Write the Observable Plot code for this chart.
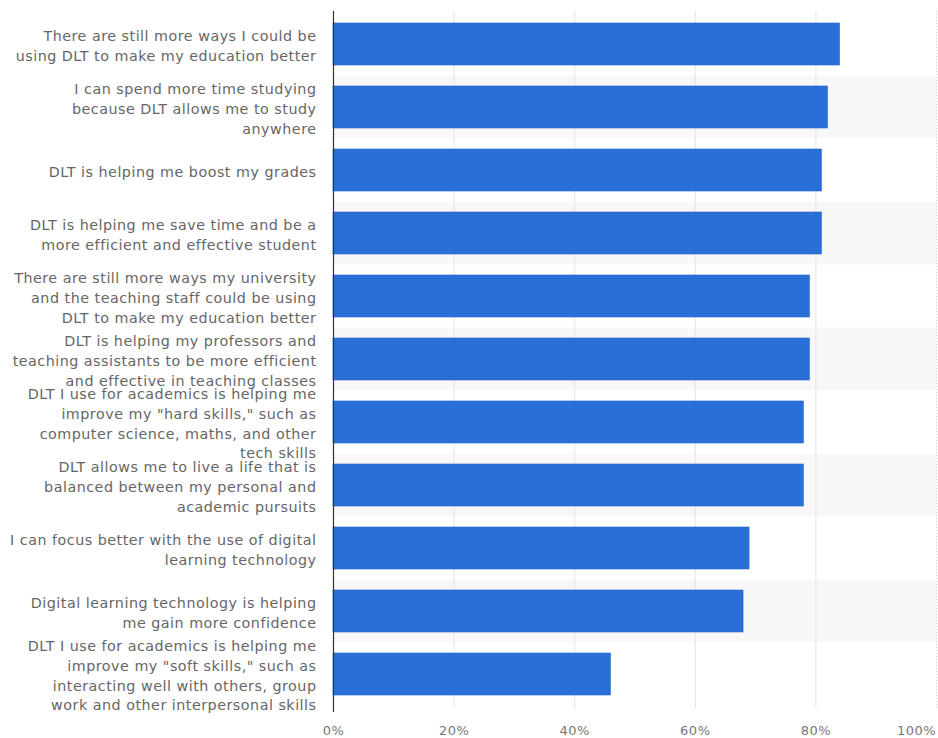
<!DOCTYPE html>
<html>
<head>
<meta charset="utf-8">
<script src="https://cdn.jsdelivr.net/npm/d3@7"></script>
<script src="https://cdn.jsdelivr.net/npm/@observablehq/plot@0.6"></script>
<style>
  html, body { margin: 0; padding: 0; background: #fff; }
  #chart svg { display: block; }
  #chart svg text { letter-spacing: 0.5px; }
</style>
</head>
<body>
<div id="chart"></div>
<script>
const categories = [
  "There are still more ways I could be\nusing DLT to make my education better",
  "I can spend more time studying\nbecause DLT allows me to study\nanywhere",
  "DLT is helping me boost my grades",
  "DLT is helping me save time and be a\nmore efficient and effective student",
  "There are still more ways my university\nand the teaching staff could be using\nDLT to make my education better",
  "DLT is helping my professors and\nteaching assistants to be more efficient\nand effective in teaching classes",
  "DLT I use for academics is helping me\nimprove my \"hard skills,\" such as\ncomputer science, maths, and other\ntech skills",
  "DLT allows me to live a life that is\nbalanced between my personal and\nacademic pursuits",
  "I can focus better with the use of digital\nlearning technology",
  "Digital learning technology is helping\nme gain more confidence",
  "DLT I use for academics is helping me\nimprove my \"soft skills,\" such as\ninteracting well with others, group\nwork and other interpersonal skills"
];
const shares = [84, 82, 81, 81, 79, 79, 78, 78, 69, 68, 46];
const xTicks = [0, 20, 40, 60, 80, 100];

const data = categories.map((c, i) => ({category: c, value: shares[i], index: i}));
const stripes = data.filter(d => d.index % 2 === 1);

const stepPx = 697 / 11;
const halfGap = stepPx * 0.33 / 2;

const chart = Plot.plot({
  width: 938,
  height: 738,
  marginLeft: 333,
  marginRight: 2,
  marginTop: 11,
  marginBottom: 30,
  style: {fontFamily: "DejaVu Sans, sans-serif", background: "#fff"},
  x: {domain: [0, 100], axis: null},
  y: {domain: categories, axis: null, paddingInner: 0.33, paddingOuter: 0.165},
  marks: [
    Plot.barX(stripes, {x1: 0, x2: 100, y: "category", fill: "#f8f8f8",
      insetTop: -halfGap, insetBottom: -halfGap}),
    Plot.ruleX(xTicks.filter(t => t > 0 && t < 100), {stroke: "#e4e4e4", strokeWidth: 1}),
    Plot.ruleX([100], {stroke: "#d0d0d0", strokeWidth: 1, strokeDasharray: "1,2"}),
    Plot.barX(data, {x: "value", y: "category", fill: "#2a6fd8", stroke: "#2263c6", strokeWidth: 0.6}),
    Plot.ruleX([0], {stroke: "#333", strokeWidth: 1.2, insetBottom: -4}),
    Plot.text(data, {
      y: "category", frameAnchor: "left", text: "category",
      textAnchor: "end", dx: -17, fontSize: 14.3, lineHeight: 1.38,
      fill: "#666"
    }),
    Plot.text(xTicks.filter(t => t < 100), {
      x: d => d, frameAnchor: "bottom", lineAnchor: "middle", text: d => d + "%",
      dy: 22, fontSize: 13, fill: "#777"
    }),
    Plot.text(xTicks.filter(t => t === 100), {
      x: d => d, frameAnchor: "bottom", lineAnchor: "middle", text: d => d + "%",
      dy: 22, dx: -20, fontSize: 13, fill: "#777"
    })
  ]
});
document.getElementById("chart").appendChild(chart);
</script>
</body>
</html>
